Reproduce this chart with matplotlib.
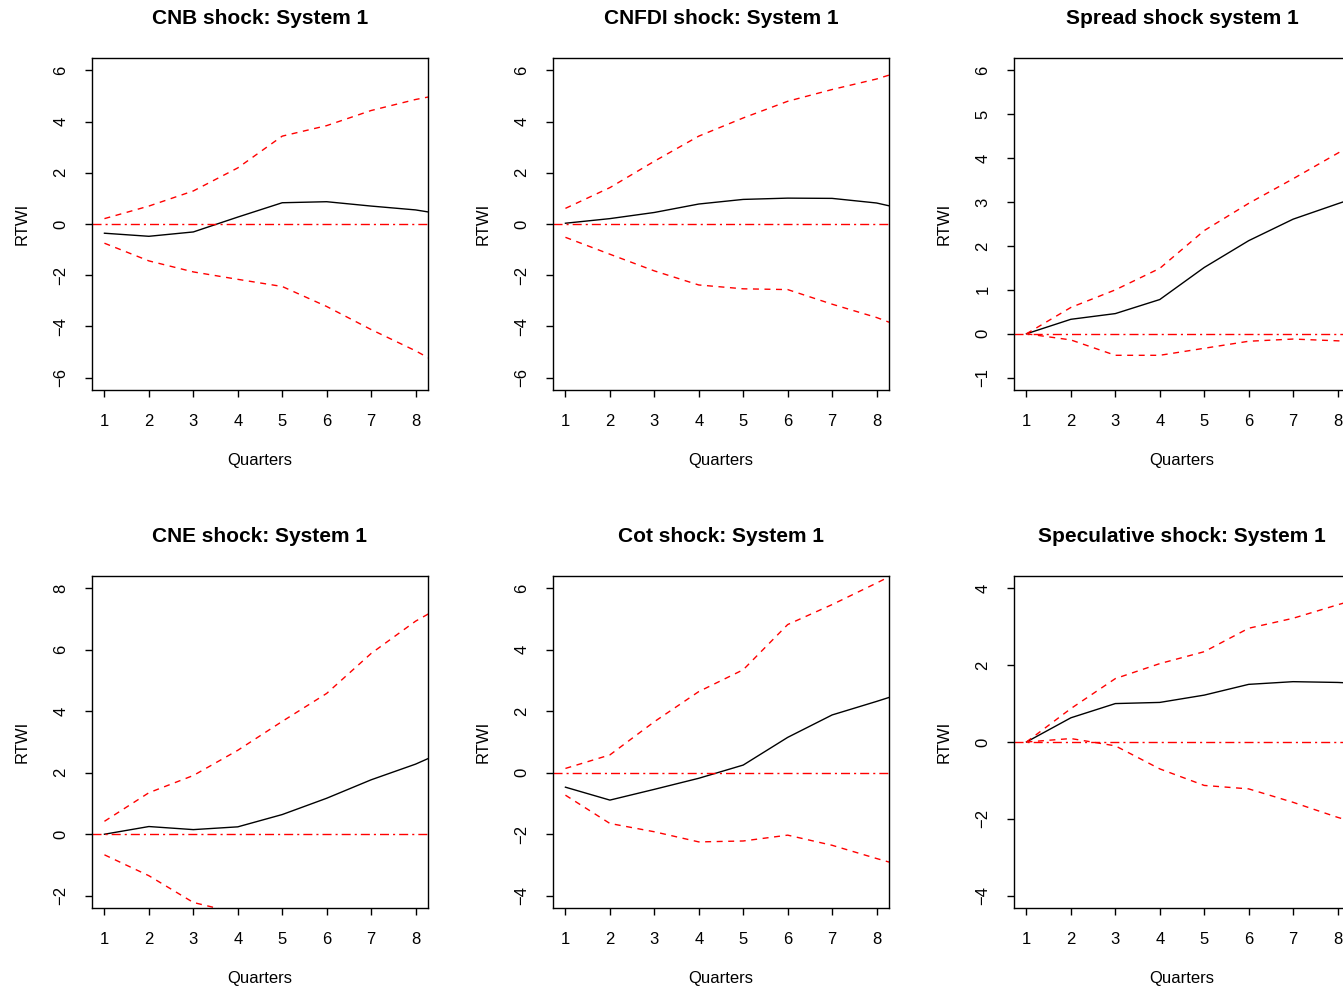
import matplotlib
matplotlib.use("Agg")
import matplotlib.pyplot as plt
import numpy as np

plt.rcParams['font.family'] = ['Liberation Sans', 'DejaVu Sans']

quarters = [1, 2, 3, 4, 5, 6, 7, 8, 9]

titles = ["CNB shock: System 1", "CNFDI shock: System 1", "Spread shock system 1",
          "CNE shock: System 1", "Cot shock: System 1", "Speculative shock: System 1"]

# Impulse responses (point estimate, upper band, lower band)
cnb_irf   = [-0.36, -0.48, -0.31, 0.27, 0.83, 0.87, 0.70, 0.55, 0.27]
cnb_up    = [0.21, 0.70, 1.29, 2.19, 3.43, 3.84, 4.43, 4.86, 5.20]
cnb_lo    = [-0.75, -1.44, -1.87, -2.16, -2.44, -3.22, -4.12, -4.95, -5.90]

cnfdi_irf = [0.03, 0.21, 0.45, 0.78, 0.96, 1.01, 1.00, 0.82, 0.43]
cnfdi_up  = [0.61, 1.42, 2.45, 3.43, 4.14, 4.79, 5.25, 5.66, 6.20]
cnfdi_lo  = [-0.52, -1.18, -1.83, -2.38, -2.53, -2.56, -3.13, -3.65, -4.30]

spread_irf = [0.00, 0.33, 0.46, 0.78, 1.51, 2.12, 2.61, 2.96, 3.30]
spread_up  = [0.00, 0.60, 1.00, 1.49, 2.35, 2.97, 3.53, 4.11, 4.70]
spread_lo  = [0.00, -0.14, -0.49, -0.49, -0.33, -0.17, -0.12, -0.16, -0.20]

cne_irf = [0.00, 0.25, 0.15, 0.24, 0.64, 1.17, 1.77, 2.28, 2.92]
cne_up  = [0.42, 1.35, 1.91, 2.73, 3.67, 4.58, 5.88, 6.93, 7.75]
cne_lo  = [-0.67, -1.35, -2.22, -2.57, -3.00, -3.50, -4.00, -4.50, -5.00]

cot_irf = [-0.47, -0.89, -0.54, -0.18, 0.25, 1.15, 1.88, 2.32, 2.78]
cot_up  = [0.14, 0.58, 1.66, 2.64, 3.35, 4.82, 5.47, 6.17, 6.90]
cot_lo  = [-0.73, -1.65, -1.92, -2.25, -2.22, -2.03, -2.36, -2.79, -3.20]

spec_irf = [0.00, 0.63, 1.00, 1.03, 1.22, 1.50, 1.57, 1.55, 1.50]
spec_up  = [0.00, 0.87, 1.65, 2.04, 2.35, 2.96, 3.22, 3.57, 3.90]
spec_lo  = [0.00, 0.09, -0.10, -0.70, -1.13, -1.22, -1.57, -1.96, -2.30]

irfs = [cnb_irf, cnfdi_irf, spread_irf, cne_irf, cot_irf, spec_irf]
ups = [cnb_up, cnfdi_up, spread_up, cne_up, cot_up, spec_up]
los = [cnb_lo, cnfdi_lo, spread_lo, cne_lo, cot_lo, spec_lo]

yticks = [[-6, -4, -2, 0, 2, 4, 6], [-6, -4, -2, 0, 2, 4, 6], [-1, 0, 1, 2, 3, 4, 5, 6],
          [-2, 0, 2, 4, 6, 8], [-4, -2, 0, 2, 4, 6], [-4, -2, 0, 2, 4]]
xticks = [1, 2, 3, 4, 5, 6, 7, 8]

W, H = 1343, 992
fig = plt.figure(figsize=(W / 100, H / 100), dpi=100)

col_left = [92, 553, 1014]
row_top = [58, 576]
bw, bh = 336, 332

for i in range(6):
    r, c = divmod(i, 3)
    left = col_left[c]
    top = row_top[r]
    ax = fig.add_axes([left / W, (H - top - bh) / H, bw / W, bh / H])
    yt = yticks[i]
    span = yt[-1] - yt[0]
    ax.set_xlim(1 - 0.04 * 7, 8 + 0.04 * 7)
    ax.set_ylim(yt[0] - 0.04 * span, yt[-1] + 0.04 * span)
    ax.plot(quarters, irfs[i], color='black', lw=1.0)
    ax.plot(quarters, ups[i], color='red', lw=1.0, dashes=(4.3, 4.0))
    ax.plot(quarters, los[i], color='red', lw=1.0, dashes=(4.3, 4.0))
    ax.axhline(0, color='red', lw=1.0, dashes=(6.5, 2.9, 1.5, 2.9))
    ax.set_xticks(xticks)
    ax.set_yticks(yt)
    ax.set_yticklabels([str(v).replace('-', '\u2212') for v in yt], rotation=90, va='center')
    ax.tick_params(axis='both', direction='out', length=5, width=1, labelsize=12, colors='black')
    ax.tick_params(axis='x', pad=12)
    ax.tick_params(axis='y', pad=12)
    for s in ax.spines.values():
        s.set_linewidth(1.0)
    ax.text(0.5, 1 + 40 / bh, titles[i], transform=ax.transAxes, ha='center', va='center',
            fontsize=15, fontweight='bold')
    ax.text(0.5, -71 / bh, "Quarters", transform=ax.transAxes, ha='center', va='center', fontsize=12)
    ax.text(-70 / bw, 0.5, "RTWI", transform=ax.transAxes, ha='center', va='center',
            rotation=90, fontsize=12)

fig.savefig("out.png", dpi=100)
